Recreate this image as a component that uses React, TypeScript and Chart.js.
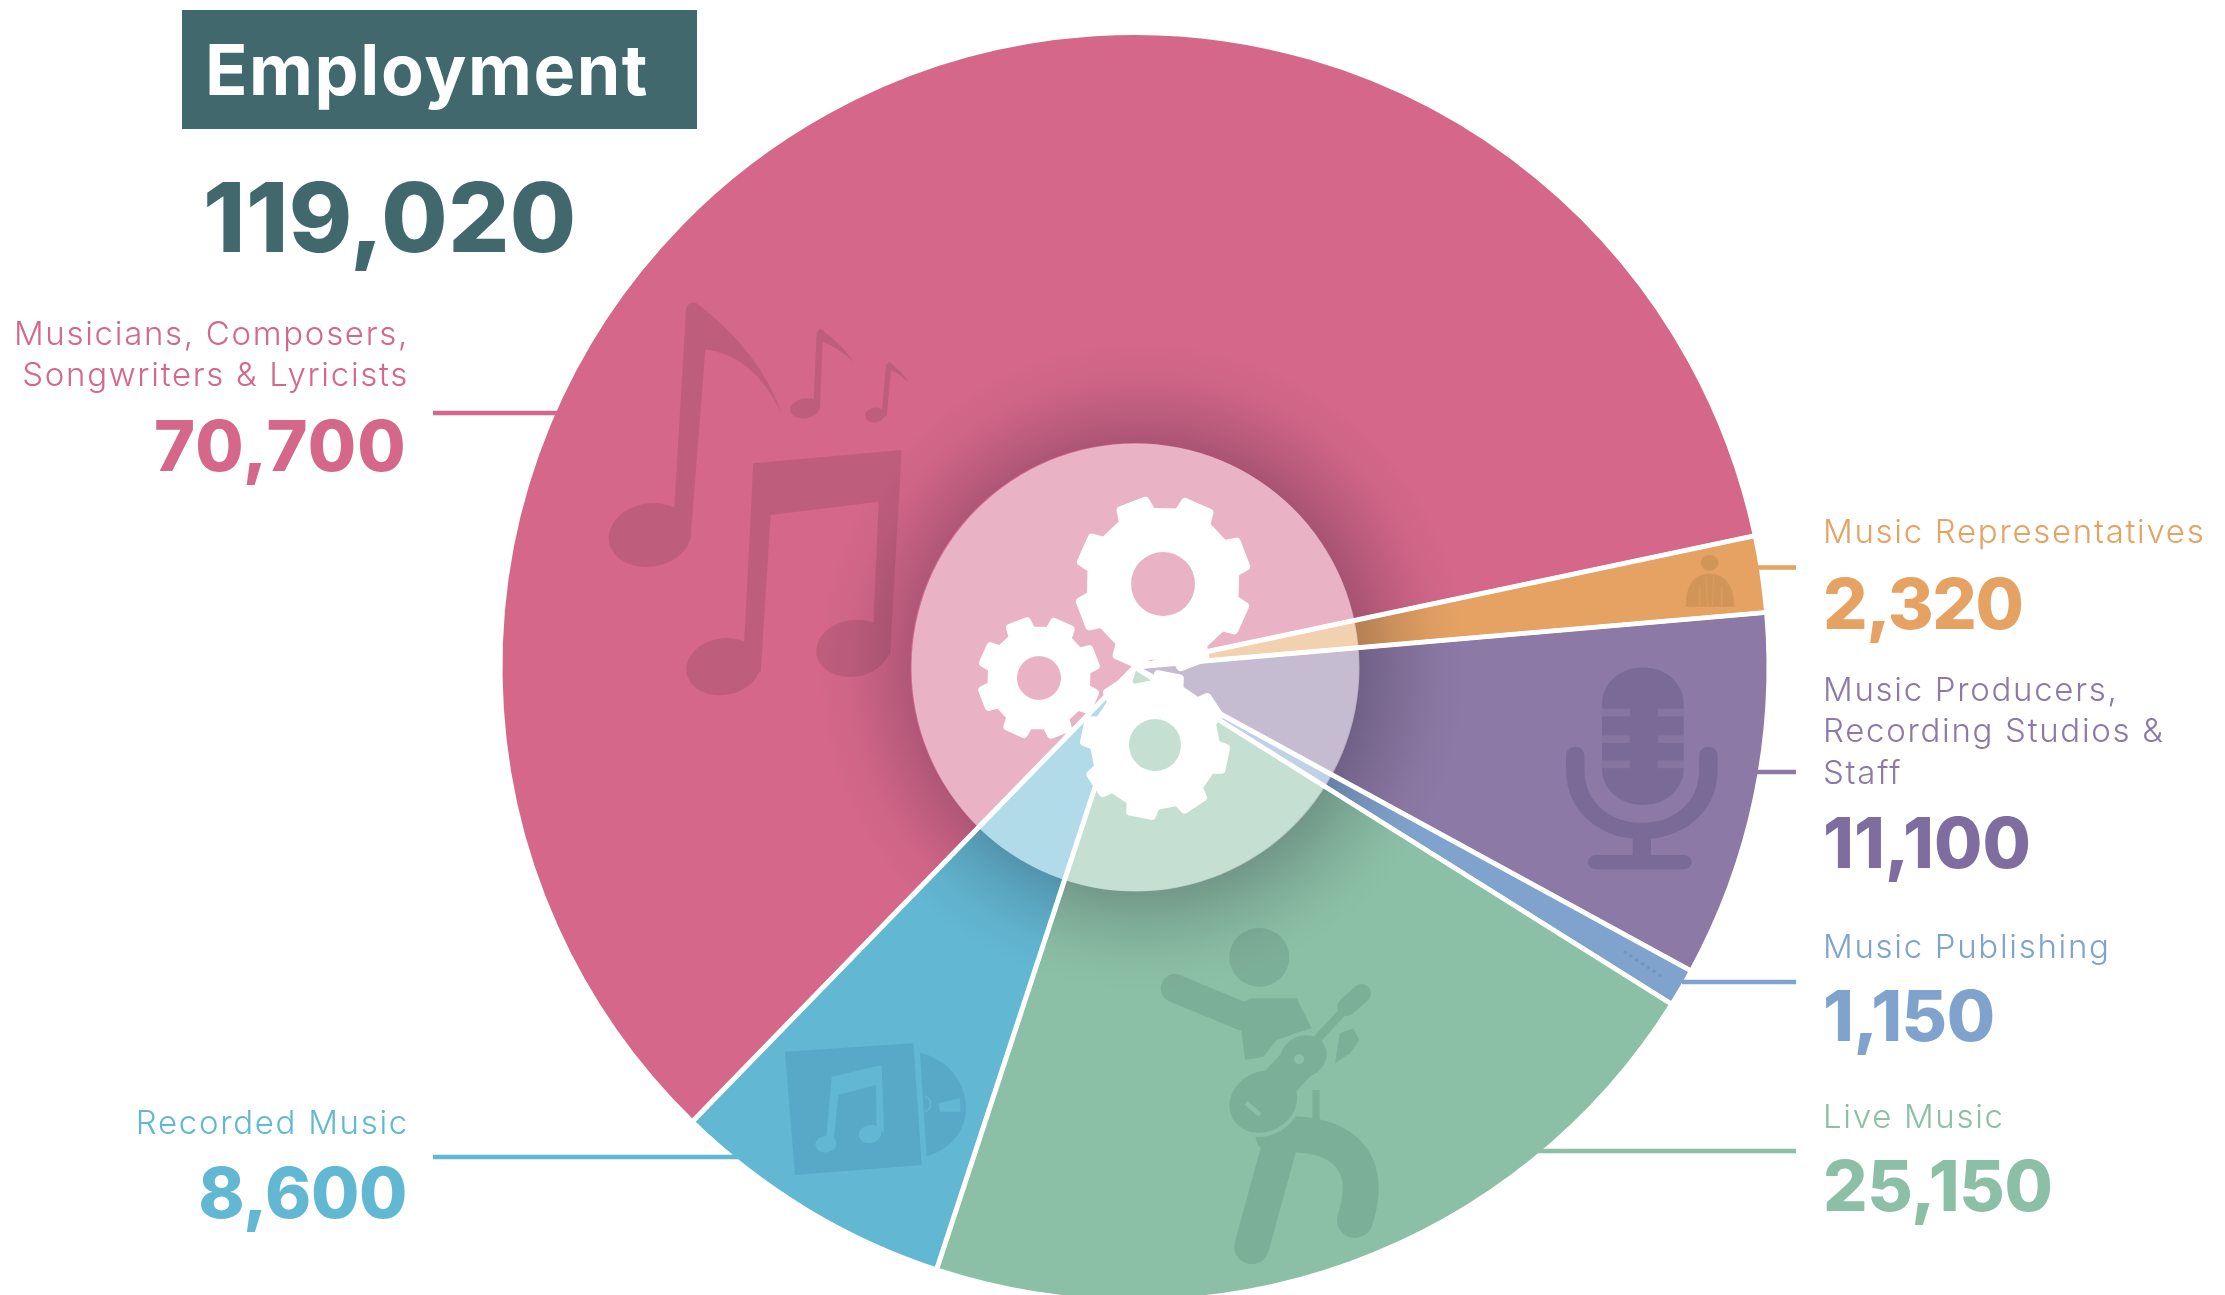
import React, { useEffect, useRef } from "react";
import { Chart, registerables } from "chart.js";

Chart.register(...registerables);

const categories = [
  "Musicians, Composers, Songwriters & Lyricists",
  "Music Representatives",
  "Music Producers, Recording Studios & Staff",
  "Music Publishing",
  "Live Music",
  "Recorded Music",
];
const employment = [70700, 2320, 11100, 1150, 25150, 8600];
const valueLabels = ["70,700", "2,320", "11,100", "1,150", "25,150", "8,600"];
const labelLines = [
  ["Musicians, Composers,", "Songwriters & Lyricists"],
  ["Music Representatives"],
  ["Music Producers,", "Recording Studios &", "Staff"],
  ["Music Publishing"],
  ["Live Music"],
  ["Recorded Music"],
];
const sliceColors = ["#D4678A", "#E5A263", "#8C79A5", "#7FA3CC", "#8BC0A6", "#62B7D2"];
const numberColors = ["#D4678A", "#E5A263", "#7F6DA0", "#7FA3CC", "#8BC0A6", "#62B7D2"];
const titleText = "Employment";
const totalText = "119,020";

const FONT_NUM = "Inter, sans-serif";
const FONT_LABEL = "Inter, sans-serif";

// layout only
const textLayout = [
  { side: "r", labelTop: 312.5, numTop: 406, spacing: 1.2 },
  { side: "l", labelTop: 510.5, numTop: 564, spacing: -1.5 },
  { side: "l", labelTop: 668.5, numTop: 803, spacing: 0 },
  { side: "l", labelTop: 925.5, numTop: 976, spacing: -0.5 },
  { side: "l", labelTop: 1095.5, numTop: 1146, spacing: -0.4 },
  { side: "r", labelTop: 1101.5, numTop: 1153, spacing: -0.4 },
];
const leaders = [
  { y: 413, x0: 433, x1: 560 },
  { y: 567.5, x0: 1755, x1: 1796 },
  { y: 772, x0: 1755, x1: 1796 },
  { y: 982, x0: 1682, x1: 1796 },
  { y: 1151, x0: 1538, x1: 1796 },
  { y: 1157, x0: 433, x1: 740 },
];

type Ctx = CanvasRenderingContext2D;

function ell(c: Ctx, x: number, y: number, rx: number, ry: number, rot = -0.17) {
  c.beginPath();
  c.ellipse(x, y, rx, ry, rot, 0, Math.PI * 2);
  c.fill();
}
function poly(c: Ctx, pts: number[][]) {
  c.beginPath();
  pts.forEach((p, i) => (i ? c.lineTo(p[0], p[1]) : c.moveTo(p[0], p[1])));
  c.closePath();
  c.fill();
}
function seg(c: Ctx, x0: number, y0: number, x1: number, y1: number, w: number, cap: CanvasLineCap = "round") {
  c.beginPath();
  c.moveTo(x0, y0);
  c.lineTo(x1, y1);
  c.lineWidth = w;
  c.lineCap = cap;
  c.stroke();
}

function drawNotes(c: Ctx) {
  c.save();
  c.translate(600, 280);
  c.scale(1 / 3, 1 / 3);
  c.fillStyle = "#BF5D7D";
  c.strokeStyle = "#BF5D7D";
  c.beginPath();
  c.moveTo(258, 90);
  c.quadraticCurveTo(265, 60, 290, 70);
  c.quadraticCurveTo(480, 215, 545, 400);
  c.quadraticCurveTo(460, 225, 316, 208);
  c.lineTo(272, 770);
  c.lineTo(222, 700);
  c.closePath();
  c.fill();
  ell(c, 150, 765, 125, 95);
  c.beginPath();
  c.moveTo(650, 160);
  c.lineTo(660, 145);
  c.quadraticCurveTo(720, 190, 762, 245);
  c.quadraticCurveTo(710, 200, 668, 185);
  c.lineTo(660, 385);
  c.lineTo(640, 380);
  c.closePath();
  c.fill();
  ell(c, 615, 385, 45, 30);
  c.beginPath();
  c.moveTo(858, 255);
  c.lineTo(868, 245);
  c.quadraticCurveTo(905, 275, 925, 305);
  c.quadraticCurveTo(895, 280, 873, 270);
  c.lineTo(860, 410);
  c.lineTo(845, 405);
  c.closePath();
  c.fill();
  ell(c, 825, 405, 30, 22);
  poly(c, [
    [460, 550], [905, 510], [870, 1130], [820, 1040], [836, 665], [512, 705], [482, 1180], [432, 1100],
  ]);
  ell(c, 370, 1160, 112, 85);
  ell(c, 760, 1105, 112, 85);
  c.restore();
}

function drawPerson(c: Ctx) {
  c.save();
  c.translate(1600, 480);
  c.scale(1 / 2.509, 1 / 2.8);
  c.fillStyle = "#D29558";
  ell(c, 275, 232, 22, 22, 0);
  c.beginPath();
  c.moveTo(215, 355);
  c.quadraticCurveTo(215, 265, 275, 262);
  c.quadraticCurveTo(335, 265, 337, 355);
  c.closePath();
  c.fill();
  c.strokeStyle = "#DB9C5E";
  seg(c, 250, 300, 250, 356, 4, "butt");
  seg(c, 305, 300, 305, 356, 4, "butt");
  seg(c, 266, 270, 270, 356, 3, "butt");
  seg(c, 285, 270, 282, 356, 3, "butt");
  c.restore();
}

function drawMic(c: Ctx) {
  c.save();
  c.translate(1600, 480);
  c.scale(1 / 2.509, 1 / 2.8);
  c.fillStyle = "#7A6A98";
  c.strokeStyle = "#7A6A98";
  c.beginPath();
  c.roundRect(5, 525, 205, 385, 100);
  c.fill();
  c.fillStyle = "#8674A1";
  [640, 715, 785].forEach((y) => {
    c.fillRect(5, y, 70, 22);
    c.fillRect(145, y, 66, 22);
  });
  c.beginPath();
  c.lineWidth = 46;
  c.lineCap = "round";
  c.moveTo(272, 770);
  c.lineTo(272, 810);
  c.bezierCurveTo(272, 1040, -62, 1040, -62, 810);
  c.lineTo(-62, 770);
  c.stroke();
  seg(c, 105, 985, 105, 1060, 46, "butt");
  seg(c, -10, 1070, 210, 1070, 40);
  c.restore();
}

function drawPublishing(c: Ctx) {
  c.save();
  c.translate(1600, 480);
  c.scale(1 / 2.509, 1 / 2.8);
  c.strokeStyle = "#7295BF";
  c.setLineDash([8, 10]);
  seg(c, 60, 1320, 155, 1390, 8, "butt");
  c.restore();
}

function drawGuitarist(c: Ctx) {
  const base = "#8BC0A6";
  const ink = "#7CAF98";
  c.save();
  c.translate(1100, 900);
  c.scale(1 / 3, 1 / 3);
  c.fillStyle = ink;
  c.strokeStyle = ink;
  ell(c, 478, 172, 90, 88, 0);
  seg(c, 225, 265, 430, 350, 85);
  poly(c, [[425, 310], [450, 295], [590, 295], [635, 385], [530, 420], [490, 470], [435, 480], [425, 400]]);
  seg(c, 535, 750, 455, 1040, 105);
  c.beginPath();
  c.moveTo(520, 705);
  c.bezierCurveTo(700, 690, 830, 760, 765, 960);
  c.lineWidth = 108;
  c.lineCap = "round";
  c.stroke();
  seg(c, 648, 570, 648, 680, 22, "butt");
  const guitar = (style: string, extra: number) => {
    c.strokeStyle = style;
    c.fillStyle = style;
    c.beginPath();
    c.ellipse(490, 605, 105 + extra, 90 + extra, -0.5, 0, Math.PI * 2);
    c.fill();
    c.beginPath();
    c.ellipse(610, 470, 72 + extra, 62 + extra, -0.5, 0, Math.PI * 2);
    c.fill();
    seg(c, 490, 600, 610, 470, 110 + extra * 2);
    seg(c, 640, 430, 770, 290, 26 + extra);
  };
  guitar(base, 12);
  guitar(ink, 0);
  c.fillStyle = ink;
  poly(c, [[705, 490], [720, 400], [760, 385], [778, 420], [750, 460]]);
  c.strokeStyle = ink;
  seg(c, 740, 320, 785, 280, 56);
  c.fillStyle = base;
  ell(c, 597, 478, 15, 15, 0);
  c.strokeStyle = base;
  seg(c, 438, 608, 480, 645, 14, "butt");
  c.restore();
}

function drawRecord(c: Ctx) {
  const base = "#62B7D2";
  const ink = "#58A9C7";
  c.save();
  c.translate(700, 1000);
  c.scale(1 / 3, 1 / 3);
  c.fillStyle = ink;
  poly(c, [[255, 155], [640, 130], [665, 495], [285, 525]]);
  c.beginPath();
  c.moveTo(660, 158);
  c.bezierCurveTo(830, 200, 850, 420, 680, 468);
  c.closePath();
  c.fill();
  c.fillStyle = base;
  poly(c, [[395, 230], [545, 195], [552, 395], [530, 395], [528, 255], [415, 285], [400, 430], [378, 425]]);
  ell(c, 378, 432, 32, 25);
  ell(c, 510, 402, 34, 27);
  poly(c, [[715, 310], [780, 295], [782, 335], [720, 335]]);
  c.strokeStyle = base;
  c.beginPath();
  c.arc(668, 312, 24, -1.3, 1.3);
  c.lineWidth = 5;
  c.stroke();
  c.restore();
}

function gear(c: Ctx, x: number, y: number, rOut: number, rRoot: number, rHole: number, teeth: number, rot: number) {
  const step = (Math.PI * 2) / teeth;
  const tipHalf = step * 0.2;
  const baseHalf = step * 0.27;
  const outline = new Path2D();
  for (let i = 0; i < teeth; i++) {
    const a = rot + i * step;
    [[rRoot, a - baseHalf], [rOut, a - tipHalf], [rOut, a + tipHalf], [rRoot, a + baseHalf]].forEach(([r, t], j) => {
      const px = x + r * Math.cos(t);
      const py = y + r * Math.sin(t);
      if (i === 0 && j === 0) outline.moveTo(px, py);
      else outline.lineTo(px, py);
    });
  }
  outline.closePath();
  const full = new Path2D(outline);
  full.moveTo(x + rHole, y);
  full.arc(x, y, rHole, 0, Math.PI * 2, true);
  c.fillStyle = "#FFFFFF";
  c.fill(full, "evenodd");
  c.strokeStyle = "#FFFFFF";
  c.lineJoin = "round";
  c.lineWidth = 8;
  c.setLineDash([]);
  c.stroke(outline);
}

const decorations = {
  id: "decorations",
  afterDatasetsDraw(chart: any) {
    const c: Ctx = chart.ctx;
    const arcs = chart.getDatasetMeta(0).data;
    const ax = arcs[0].x;
    const ay = arcs[0].y;
    const R = arcs[0].outerRadius - 2;
    const hub = 224;
    c.save();
    leaders.forEach((l, i) => {
      c.strokeStyle = sliceColors[i];
      seg(c, l.x0, l.y, l.x1, l.y, 4.5, "butt");
    });
    drawNotes(c);
    drawPerson(c);
    drawMic(c);
    drawPublishing(c);
    c.setLineDash([]);
    drawGuitarist(c);
    drawRecord(c);

    const outer = 325;
    const g = c.createRadialGradient(ax + 8, ay, hub - 8, ax + 8, ay, outer);
    g.addColorStop(0, "rgba(30,20,40,0.25)");
    g.addColorStop(0.35, "rgba(30,20,40,0.13)");
    g.addColorStop(0.7, "rgba(30,20,40,0.035)");
    g.addColorStop(1, "rgba(30,20,40,0)");
    c.beginPath();
    c.arc(ax + 8, ay, outer, 0, Math.PI * 2);
    c.arc(ax, ay, hub, 0, Math.PI * 2, true);
    c.fillStyle = g;
    c.fill("evenodd");

    c.strokeStyle = "#FFFFFF";
    c.lineWidth = 5;
    c.lineCap = "butt";
    arcs.forEach((a: any) => {
      c.beginPath();
      c.moveTo(ax, ay);
      c.lineTo(ax + R * Math.cos(a.startAngle), ay + R * Math.sin(a.startAngle));
      c.stroke();
    });

    c.beginPath();
    c.arc(ax + 1, ay + 0.5, hub, 0, Math.PI * 2);
    c.fillStyle = "rgba(255,255,255,0.5)";
    c.fill();

    gear(c, 1163, 584, 85, 73, 32, 8, -Math.PI / 2 + 0.42);
    gear(c, 1039, 678, 58, 48, 22, 8, -Math.PI / 2 + 0.42);
    gear(c, 1155, 745, 71, 61, 26, 8, -Math.PI / 2 + 0.2);
    c.restore();
  },
};

export default function App() {
  const ref = useRef<HTMLCanvasElement | null>(null);
  useEffect(() => {
    if (!ref.current) return;
    const chart = new Chart(ref.current, {
      type: "pie",
      data: {
        labels: categories,
        datasets: [
          {
            data: employment,
            backgroundColor: sliceColors,
            borderColor: "#FFFFFF",
            borderWidth: 4,
            borderAlign: "center",
            borderJoinStyle: "bevel",
          },
        ],
      },
      options: {
        responsive: false,
        animation: false,
        rotation: -135.8,
        radius: 634,
        layout: { padding: { left: 500, right: 456, top: 32, bottom: 32 } },
        plugins: { legend: { display: false }, tooltip: { enabled: false } },
      },
      plugins: [decorations],
    } as any);
    return () => chart.destroy();
  }, []);

  return (
    <div style={{ position: "fixed", inset: 0, overflow: "hidden", background: "#fff" }}>
      <canvas ref={ref} width={2225} height={1334} style={{ position: "absolute", left: 0, top: 0, display: "block" }} />
      <div
        style={{
          position: "absolute", left: 182, top: 10, width: 515, height: 119, background: "#41686D", color: "#fff",
          fontFamily: FONT_NUM, fontWeight: 700, fontSize: 70, lineHeight: "119px", paddingLeft: 23, boxSizing: "border-box",
          letterSpacing: 1.6,
        }}
      >
        {titleText}
      </div>
      <div
        style={{
          position: "absolute", left: 203, top: 162, color: "#41686D", fontFamily: FONT_NUM, fontWeight: 800,
          fontSize: 96, lineHeight: "110px", letterSpacing: 0.5,
        }}
      >
        {totalText}
      </div>
      {categories.map((_, i) => {
        const t = textLayout[i];
        const side = (rightPx: number): React.CSSProperties =>
          t.side === "r" ? { right: rightPx, textAlign: "right" } : { left: 1823, textAlign: "left" };
        return (
          <React.Fragment key={i}>
            <div
              style={{
                position: "absolute", top: t.labelTop, ...side(1816), color: sliceColors[i], fontFamily: FONT_LABEL,
                fontWeight: 300, fontSize: 33, lineHeight: "41.5px", whiteSpace: "nowrap", letterSpacing: 1.7,
              }}
            >
              {labelLines[i].map((s, j) => (
                <div key={j}>{s}</div>
              ))}
            </div>
            <div
              style={{
                position: "absolute", top: t.numTop, ...side(1818), color: numberColors[i], fontFamily: FONT_NUM,
                fontWeight: 800, fontSize: 70, lineHeight: "80px", whiteSpace: "nowrap", letterSpacing: t.spacing,
              }}
            >
              {valueLabels[i]}
            </div>
          </React.Fragment>
        );
      })}
    </div>
  );
}
